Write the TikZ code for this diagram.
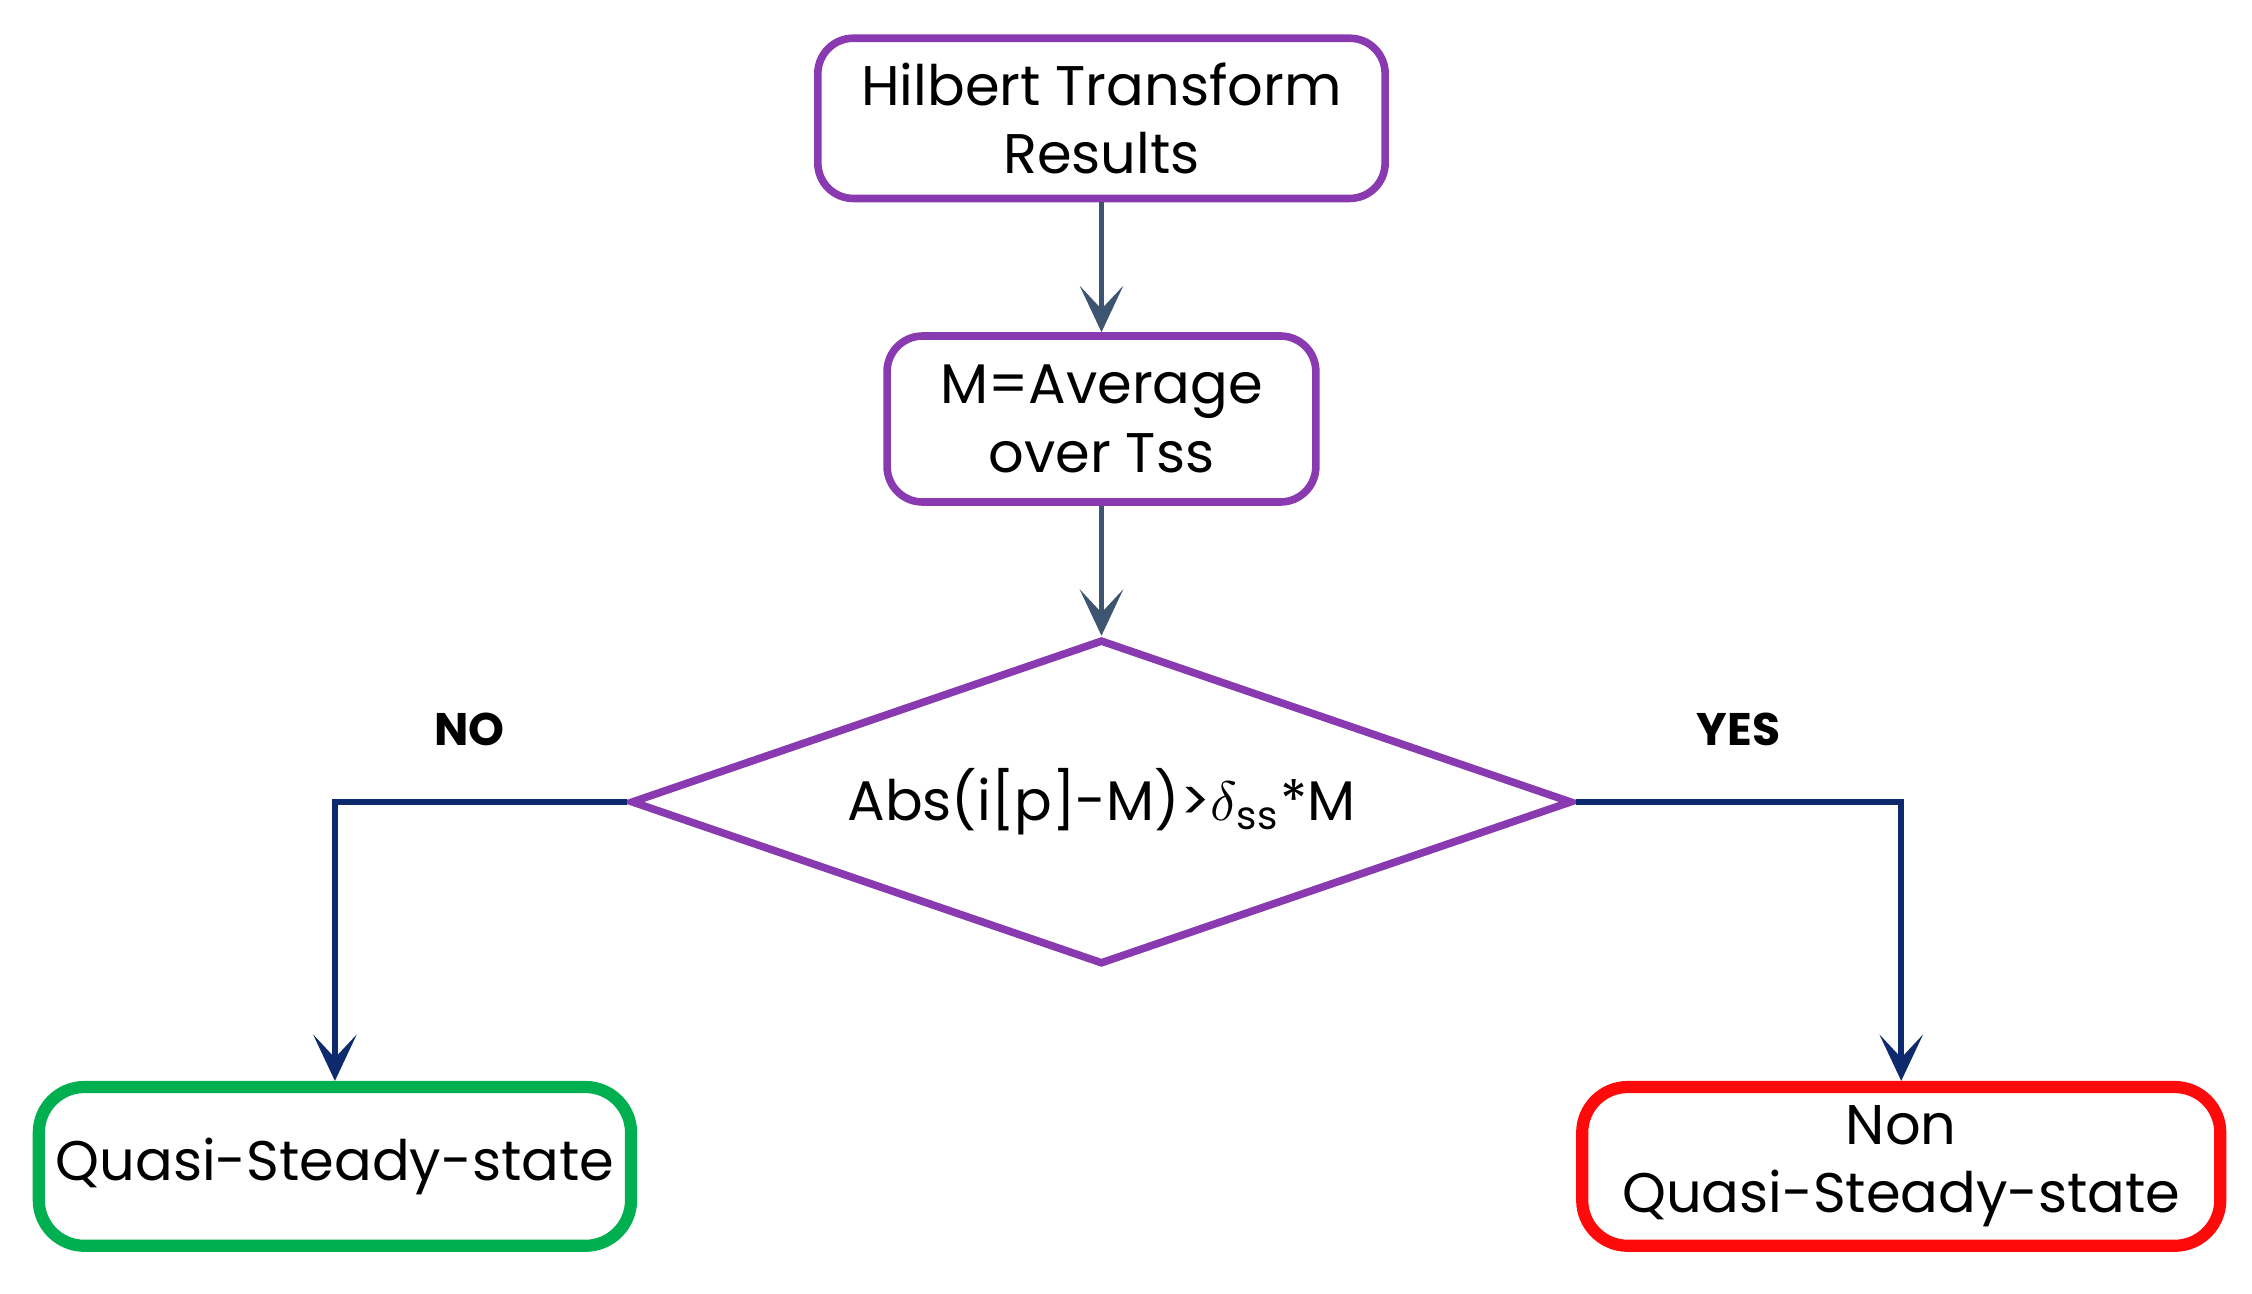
\documentclass[tikz,border=0pt]{standalone}
\usepackage{fontspec}
\setmainfont{Poppins}
\usepackage{tikz}
\usetikzlibrary{arrows.meta,positioning,shapes.geometric}
\definecolor{flowpurple}{HTML}{8A3AB0}
\definecolor{slate}{HTML}{3D5570}
\definecolor{navy}{HTML}{0E2A6E}
\definecolor{okgreen}{HTML}{00B050}
\definecolor{badred}{HTML}{FF0A0A}

\begin{document}
\begin{tikzpicture}[
    font=\fontsize{11}{13.5}\selectfont,
    >={Stealth[length=3.2mm,width=3mm,inset=1.6mm]},
    block/.style={draw=flowpurple, line width=1.5pt, rounded corners=7pt, align=center, inner sep=1mm},
    decision/.style={diamond, draw=flowpurple, line width=1.5pt, inner sep=0pt, shape aspect=2.9, minimum width=6.52cm, minimum height=2.25cm},
    outcome/.style={draw, line width=2.4pt, rounded corners=9pt, align=center, minimum height=1.1cm},
    line/.style={->, slate, line width=1.1pt},
    branch/.style={->, navy, line width=1.1pt}
]
\useasboundingbox (0,0) rectangle (15.6,8.96);

% Main column
\node[block, minimum width=3.93cm, minimum height=1.11cm] (hilbert) at (7.63,8.14) {Hilbert Transform\\Results};
\node[block, minimum width=2.97cm, minimum height=1.15cm, below=9mm of hilbert] (avg) {M=Average\\over Tss};
\node[decision, below=9mm of avg] (check) {Abs(i[p]-M)>$\delta$\textsubscript{ss}*M};

% Outcomes
\node[outcome, draw=okgreen, minimum width=4.1cm] (steady) at (2.32,0.88) {Quasi-Steady-state};
\node[outcome, draw=badred, minimum width=4.42cm] (nonsteady) at (13.17,0.88) {Non\\Quasi-Steady-state};

% Arrows
\draw[line] (hilbert) -- (avg);
\draw[line] (avg) -- (check);
\draw[branch] (check.west) -| node[pos=0.27, above=2.5mm, text=black, font=\bfseries\small]{NO} (steady.north);
\draw[branch] (check.east) -| node[pos=0.25, above=2.5mm, text=black, font=\bfseries\small]{YES} (nonsteady.north);

\end{tikzpicture}
\end{document}
